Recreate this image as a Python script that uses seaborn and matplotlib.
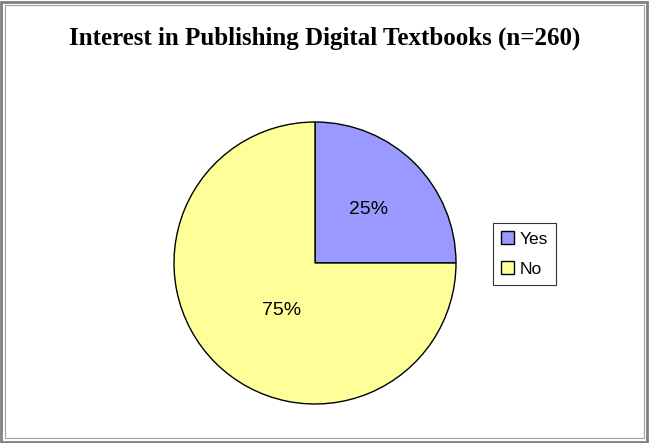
import matplotlib
matplotlib.use("Agg")
import matplotlib.pyplot as plt
import seaborn as sns
from matplotlib.patches import Rectangle, Patch
import numpy as np

sns.set_theme(style="white")
plt.rcParams['font.family'] = ['Liberation Sans', 'DejaVu Sans']
plt.rcParams['text.color'] = 'black'

title = "Interest in Publishing Digital Textbooks (n=260)"
categories = ["Yes", "No"]
values = [25, 75]
colors = ["#9999FF", "#FFFF99"]

W, H = 649, 443
fig = plt.figure(figsize=(W / 100, H / 100), dpi=100)
fig.patch.set_facecolor("white")

# figure border (double line)
fig.patches.append(Rectangle((1 / W, 1 / H), 1 - 3 / W, 1 - 3 / H, transform=fig.transFigure,
                             fill=False, edgecolor="#808080", linewidth=2.0))
fig.patches.append(Rectangle((5 / W, 5 / H), 1 - 10 / W, 1 - 10 / H, transform=fig.transFigure,
                             fill=False, edgecolor="#A0A0A0", linewidth=0.8))

cx, cy, r = 315, 263, 141
ax = fig.add_axes([(cx - r) / W, (H - cy - r) / H, 2 * r / W, 2 * r / H])
wedges, texts, autotexts = ax.pie(values, colors=colors, startangle=90, counterclock=False,
                                  autopct=lambda p: f"{p:.0f}%", pctdistance=0.5,
                                  wedgeprops=dict(edgecolor="black", linewidth=1.0),
                                  textprops=dict(fontsize=14, color="black"))
label_dist = [0.54, 0.41]
label_ang_shift = [0, 10]
for w, t, d, s in zip(wedges, autotexts, label_dist, label_ang_shift):
    mid = np.deg2rad((w.theta1 + w.theta2) / 2 + s)
    t.set_position((d * np.cos(mid), d * np.sin(mid)))
ax.set_xlim(-1.0, 1.0)
ax.set_ylim(-1.0, 1.0)
ax.set_aspect("equal")
ax.axis("off")

fig.text(0.5, 1 - 38 / H, title, ha="center", va="center", fontsize=18, fontweight="bold",
         family="Liberation Serif", color="black")

handles = [Patch(facecolor=c, edgecolor="black", label=l) for c, l in zip(colors, categories)]
leg = fig.legend(handles=handles, loc="center", bbox_to_anchor=(524.5 / W, 1 - 254 / H),
                 frameon=True, fontsize=12.5, handlelength=0.75, handleheight=0.75,
                 handletextpad=0.3, labelspacing=0.85, borderpad=0.5, fancybox=False,
                 labelcolor="black")
leg.get_frame().set_edgecolor("black")
leg.get_frame().set_linewidth(0.8)

fig.savefig("out.png", dpi=100)
